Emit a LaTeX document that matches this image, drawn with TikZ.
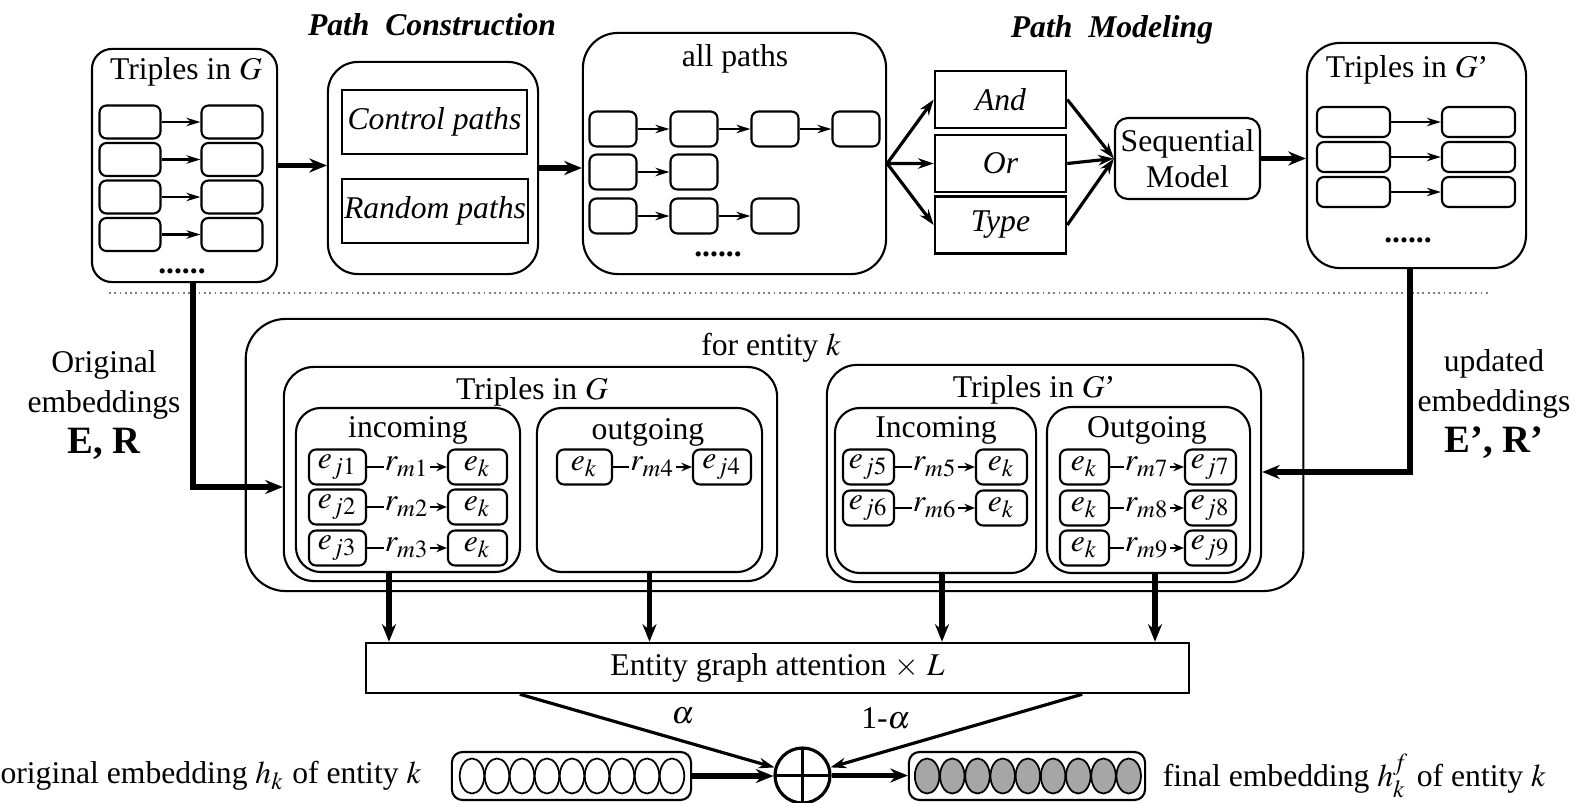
\documentclass[tikz,border=0pt]{standalone}
\usepackage{mathptmx}
\usepackage[no-math]{fontspec}
\setmainfont{Liberation Serif}
\usetikzlibrary{positioning,arrows.meta,shapes.geometric}
\definecolor{vecfill}{HTML}{A6A6A6}
\definecolor{sepline}{HTML}{7F7F7F}

\begin{document}
\begin{tikzpicture}[x=0.01cm, y=-0.01cm,
    every node/.style={font=\fontsize{9}{11}\selectfont},
    roundbox/.style={draw, line width=0.6pt, rounded corners=#1, inner sep=0pt},
    roundbox/.default=0.3cm,
    flatbox/.style={draw, line width=0.7pt, inner sep=0pt},
    cell/.style={draw, line width=0.6pt, rounded corners=2pt, inner sep=0pt},
    ecell/.style={cell, minimum height=0.35cm},
    stagehead/.style={font=\fontsize{9}{11}\selectfont\bfseries\itshape},
    ellipsis/.style={font=\fontsize{9}{11}\selectfont\bfseries},
    link/.style={-{Stealth[length=4pt,width=2.4pt]}, line width=0.6pt},
    rel/.style={-{Stealth[length=3pt,width=2.4pt]}, line width=0.6pt},
    rlab/.style={fill=white, inner sep=0.4pt},
    fork/.style={-{Stealth[length=4.5pt,width=3pt]}, line width=0.9pt},
    fat/.style={-{Stealth[length=5pt,width=4pt]}, line width=1.6pt},
    blob/.style={ellipse, draw, line width=0.5pt, minimum width=0.245cm, minimum height=0.35cm, inner sep=0pt},
  ]
  \useasboundingbox (0,0) rectangle (1575,803);

  % stage headings
  \node[stagehead] (hpc) at (432,25) {Path\ \ Construction};
  \node[stagehead] (hpm) at (1112,30) {Path\ \ Modeling};

  % triples in G
  \node[roundbox=0.2cm, minimum width=1.85cm, minimum height=2.33cm] (tg) at (184.5,165.5) {};
  \node (tgt) at (186,72) {Triples in $G$};
  \foreach \r/\y in {1/122,2/159.5,3/197,4/234.5} {
    \node[cell, minimum width=0.61cm, minimum height=0.33cm] (tgl\r) at (130,\y) {};
    \node[cell, minimum width=0.61cm, minimum height=0.33cm] (tgr\r) at (232,\y) {};
    \draw[link] (tgl\r) -- (tgr\r);
  }
  \node[ellipsis] (tgd) at (182,271) {......};

  % path construction
  \node[roundbox=0.3cm, minimum width=2.10cm, minimum height=2.12cm] (pc) at (433,168) {};
  \node[flatbox, minimum width=1.85cm, minimum height=0.64cm, font=\fontsize{9}{11}\selectfont\itshape] (ctrl) at (434.5,122) {Control paths};
  \node[flatbox, minimum width=1.86cm, minimum height=0.64cm, font=\fontsize{9}{11}\selectfont\itshape] (rand) at (435,211) {Random paths};

  % all paths
  \node[roundbox=0.35cm, minimum width=3.03cm, minimum height=2.41cm] (ap) at (734.5,153.5) {};
  \node (apt) at (735,59) {all paths};
  \foreach \r/\y/\n in {1/129/4,2/172/2,3/216/3} {
    \foreach \c in {1,...,\n}
      \node[cell, minimum width=0.47cm, minimum height=0.35cm] (ap\r\c) at ({613+(\c-1)*81},\y) {};
    \foreach \c in {2,...,\n} {
      \pgfmathtruncatemacro\p{\c-1}
      \draw[link] (ap\r\p) -- (ap\r\c);
    }
  }
  \node[ellipsis] (apd) at (718,254) {......};

  % path modeling
  \node[flatbox, minimum width=1.31cm, minimum height=0.57cm, font=\fontsize{9}{11}\selectfont\itshape] (and) at (1000.5,99.5) {And};
  \node[flatbox, minimum width=1.31cm, minimum height=0.57cm, font=\fontsize{9}{11}\selectfont\itshape] (or) at (1000.5,163.5) {Or};
  \node[flatbox, minimum width=1.31cm, minimum height=0.57cm, font=\fontsize{9}{11}\selectfont\itshape] (type) at (1000.5,225) {Type};
  \node[roundbox=0.13cm, minimum width=1.45cm, minimum height=0.81cm, align=center, font=\fontsize{9}{10.3}\selectfont] (seq) at (1187.5,158.5) {Sequential\\Model};

  % triples in G'
  \node[roundbox=0.33cm, minimum width=2.19cm, minimum height=2.25cm] (tgp) at (1416.5,155.5) {};
  \node (tgpt) at (1407,70) {Triples in $G$'};
  \foreach \r/\y in {1/122,2/157,3/192} {
    \node[cell, minimum width=0.73cm, minimum height=0.30cm] (tgpl\r) at (1353.5,\y) {};
    \node[cell, minimum width=0.73cm, minimum height=0.30cm] (tgpr\r) at (1478.5,\y) {};
    \draw[link] (tgpl\r) -- (tgpr\r);
  }
  \node[ellipsis] (tgpd) at (1408,240) {......};

  \draw[fat] (tg.east) -- (tg.east -| pc.west);
  \draw[fat] (pc.east) -- (pc.east -| ap.west);
  \coordinate (split) at ([yshift=-0.1cm]ap.east);
  \foreach \m in {and,or,type} \draw[fork] (split) -- (\m.west);
  \foreach \m in {and,or,type} \draw[fork] (\m.east) -- (seq.west);
  \draw[fat] (seq.east) -- (seq.east -| tgp.west);

  % separator
  \draw[sepline, densely dotted, line width=0.5pt] (109,293) -- (1490,293);

  % entity k
  \node[roundbox=0.4cm, minimum width=10.57cm, minimum height=2.72cm] (ent) at (774.5,455) {};
  \node (entt) at (771,348) {for entity $k$};

  \node[roundbox=0.3cm, minimum width=4.93cm, minimum height=2.14cm] (tin) at (530.5,474) {};
  \node (tint) at (532,392) {Triples in $G$};
  \node[roundbox=0.25cm, minimum width=2.24cm, minimum height=1.64cm] (inc) at (408,490) {};
  \node (inct) at (408,430) {incoming};
  \foreach \n/\y in {1/467,2/507,3/548} {
    \node[ecell, minimum width=0.57cm] (incj\n) at (337.5,\y) {$e_{j\n}$};
    \node[ecell, minimum width=0.59cm] (inck\n) at (477.5,\y) {$e_k$};
    \draw[rel] (incj\n) -- node[rlab] (incr\n) {$r_{m\n}$} (inck\n);
  }
  \node[roundbox=0.25cm, minimum width=2.25cm, minimum height=1.64cm] (out) at (649.5,490) {};
  \node (outt) at (648,432) {outgoing};
  \node[ecell, minimum width=0.55cm] (outk4) at (584.5,467) {$e_k$};
  \node[ecell, minimum width=0.58cm] (outj4) at (722,467) {$e_{j4}$};
  \draw[rel] (outk4) -- node[rlab] (outr4) {$r_{m4}$} (outj4);

  \node[roundbox=0.3cm, minimum width=4.34cm, minimum height=2.17cm] (tinp) at (1044,473.5) {};
  \node (tinpt) at (1034,390) {Triples in $G$'};
  \node[roundbox=0.25cm, minimum width=2.01cm, minimum height=1.65cm] (pinc) at (935.5,490.5) {};
  \node (pinct) at (936,430) {Incoming};
  \foreach \n/\y in {5/467,6/508} {
    \node[ecell, minimum width=0.51cm] (pincj\n) at (868.5,\y) {$e_{j\n}$};
    \node[ecell, minimum width=0.51cm] (pinck\n) at (1001.5,\y) {$e_k$};
    \draw[rel] (pincj\n) -- node[rlab] (pincr\n) {$r_{m\n}$} (pinck\n);
  }
  \node[roundbox=0.25cm, minimum width=2.03cm, minimum height=1.66cm] (pout) at (1148.5,490) {};
  \node (poutt) at (1147,430) {Outgoing};
  \foreach \n/\y in {7/467,8/508,9/548} {
    \node[ecell, minimum width=0.49cm] (poutk\n) at (1084.5,\y) {$e_k$};
    \node[ecell, minimum width=0.51cm] (poutj\n) at (1210.5,\y) {$e_{j\n}$};
    \draw[rel] (poutk\n) -- node[rlab] (poutr\n) {$r_{m\n}$} (poutj\n);
  }

  % embeddings fed in
  \node[align=center, font=\fontsize{9}{11.4}\selectfont] (orig) at (104,405)
        {Original\\embeddings\\\textbf{\fontsize{11}{12}\selectfont E, R}};
  \node[align=center, font=\fontsize{9}{11.4}\selectfont] (upd) at (1494,404)
        {updated\\embeddings\\\textbf{\fontsize{11}{12}\selectfont E', R'}};
  \coordinate (lbend) at (193,487);
  \draw[fat] (tg.south -| lbend) -- (lbend) -- (lbend -| tin.west);
  \coordinate (rbend) at (1410,472);
  \draw[fat] (tgp.south -| rbend) -- (rbend) -- (rbend -| tinp.east);

  % attention
  \node[flatbox, minimum width=8.23cm, minimum height=0.50cm] (att) at (777.5,668) {Entity graph attention $\times$ $L$};
  \foreach \b/\s in {inc/-0.19cm,out/0cm,pinc/0.065cm,pout/0.065cm} {
    \coordinate (\b dn) at ([xshift=\s]\b.south);
    \draw[fat] (\b dn) -- (\b dn |- att.north);
  }

  % combination
  \node[circle, draw, line width=0.9pt, minimum size=0.55cm, inner sep=0pt,
        path picture={\draw[line width=0.9pt] (path picture bounding box.north) -- (path picture bounding box.south)
                      (path picture bounding box.west) -- (path picture bounding box.east);}] (sum) at (802.5,775.5) {};
  \coordinate (alin) at ([xshift=-2.575cm]att.south);
  \coordinate (blin) at ([xshift=3.045cm]att.south);
  \draw[fork] (alin) -- node[pos=0.64, above=1pt] (alab) {$\alpha$} (sum);
  \draw[fork] (blin) -- node[pos=0.78, above=2.5pt] (blab) {1-$\alpha$} (sum);

  \node[cell, rounded corners=3pt, minimum width=2.39cm, minimum height=0.48cm] (vl) at (571.5,776) {};
  \foreach \i in {1,...,9} \node[blob] (vl\i) at ({459.5+(\i-0.5)*25},776) {};
  \node[cell, rounded corners=3pt, minimum width=2.36cm, minimum height=0.48cm] (vr) at (1027,776) {};
  \foreach \i in {1,...,9} \node[blob, fill=vecfill] (vr\i) at ({914.5+(\i-0.5)*25.2},776) {};
  \draw[fat] (vl.east) -- (vl.east -| sum.west);
  \draw[fat] (sum.east) -- (sum.east -| vr.west);
  \node[left=0.29cm of vl, inner sep=0pt] (origt) {original embedding $h_k$ of entity $k$};
  \node[right=0.16cm of vr, inner sep=0pt] (finalt) {final embedding $h_k^f$ of entity $k$};
\end{tikzpicture}
\end{document}
